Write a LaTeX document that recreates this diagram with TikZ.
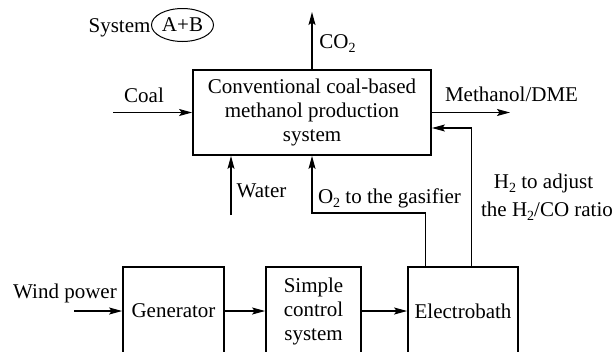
\documentclass[tikz,border=0pt]{standalone}
\usepackage{fontspec}
\setmainfont{Liberation Serif}
\usetikzlibrary{arrows.meta,shapes.geometric}
\newcommand{\subtwo}{\raisebox{-0.45ex}{\fontsize{14}{14}\selectfont 2}}
\begin{document}
\begin{tikzpicture}[x=1pt,y=-1pt,
  font=\fontsize{21}{24}\selectfont,
  box/.style={draw,line width=1.8pt,inner sep=0pt,align=center},
  conn/.style={line width=1.1pt},
  arr/.style={conn,-{Stealth[length=13pt,width=7pt,inset=2.5pt]}},
  lbl/.style={anchor=base,inner sep=0pt}]
\useasboundingbox (0,0) rectangle (613,351);
\clip (0,0) rectangle (613,351);

\node[box,minimum width=238pt,minimum height=85pt] (main) at (312,112.5) {Conventional coal-based\\methanol production\\system};
\node[box,minimum width=101pt,minimum height=88pt] (gen) at (173.5,311) {Generator};
\node[box,minimum width=95pt,minimum height=88pt] (ctrl) at (313.5,311) {Simple\\control\\system};
\node[box,minimum width=110pt,minimum height=88pt] (eb) at (463,311) {Electrobath};

\node[lbl] (systxt) at (119.5,32) {System};
\node[draw,ellipse,line width=1pt,inner sep=0pt,minimum width=62pt,minimum height=33pt] (ab) at (182.5,25) {A+B};

\coordinate (co2end) at (312,12);
\draw[arr] (main.north) -- (co2end);
\node[lbl] (co2) at (337.5,48) {CO\subtwo};

\coordinate (coalin) at (113,112.5);
\draw[arr] (coalin) -- (main.west);
\node[lbl] (coal) at (144,102) {Coal};

\coordinate (methout) at (510,112.5);
\draw[arr] (main.east) -- (methout);
\node[lbl] (meth) at (511.5,101) {Methanol/DME};

\coordinate (waterin) at (231,215);
\draw[arr] (waterin) -- (waterin |- main.south);
\node[lbl] (water) at (261.5,197) {Water};

\coordinate (o2turn) at (312,213);
\draw[arr] ([xshift=18pt]eb.north west) |- (o2turn) -- (o2turn |- main.south);
\node[lbl] (o2) at (389.5,203) {O\subtwo{} to the gasifier};

\draw[arr] ([xshift=-47pt]eb.north east) |- ([yshift=-15.5pt]main.east);
\node[lbl] (h2a) at (543.5,188) {H\subtwo{} to adjust};
\node[lbl] (h2b) at (547,216) {the H\subtwo/CO ratio};

\coordinate (windin) at (74,311);
\draw[arr] (windin) -- (gen.west);
\node[lbl] (wind) at (65,298) {Wind power};
\draw[arr] (gen.east) -- (ctrl.west);
\draw[arr] (ctrl.east) -- (eb.west);
\end{tikzpicture}
\end{document}
